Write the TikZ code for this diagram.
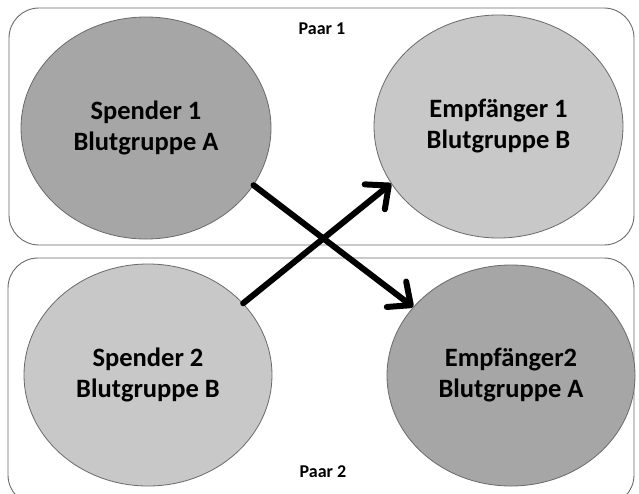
\documentclass[tikz,border=0pt]{standalone}
\usepackage{fontspec}
\setmainfont{Carlito}
\usetikzlibrary{shapes.geometric,arrows.meta}
\definecolor{darkfill}{HTML}{A6A6A6}
\definecolor{lightfill}{HTML}{C8C8C8}
\definecolor{edgegray}{HTML}{6A6A6A}
\tikzset{
  pairbox/.style={draw=edgegray, line width=0.9pt, rounded corners=30pt},
  person/.style={ellipse, draw=edgegray, line width=0.8pt, inner sep=0pt,
    align=center, font=\fontsize{26.5}{31}\selectfont\bfseries},
  pairlabel/.style={font=\fontsize{18}{21}\selectfont\bfseries, inner sep=0pt},
  swap/.style={line width=6pt, line cap=round,
    -{Straight Barb[length=18pt 0 0, width=32pt 0 0, line cap=round, line join=round]}}
}
\begin{document}
\begin{tikzpicture}[x=1pt, y=-1pt]
\useasboundingbox (0,0) rectangle (639,493);
\clip (0,0) rectangle (639,493);
\fill[white] (0,0) rectangle (639,493);
\draw[pairbox] (9,8) rectangle (634,245);
\draw[pairbox] (8,258) rectangle (634,505);
\node[pairlabel] (p1) at (322,29) {Paar 1};
\node[pairlabel] (p2) at (323,472) {Paar 2};
\node[person, fill=darkfill, minimum width=250pt, minimum height=222pt] (s1) at (146,128) {Spender 1\\Blutgruppe A};
\node[person, fill=lightfill, minimum width=249pt, minimum height=223pt] (e1) at (498.5,126.5) {Empfänger 1\\Blutgruppe B};
\node[person, fill=lightfill, minimum width=248pt, minimum height=222pt] (s2) at (148,375) {Spender 2\\Blutgruppe B};
\node[person, fill=darkfill, minimum width=248pt, minimum height=221pt] (e2) at (511,375.5) {Empfänger2\\Blutgruppe A};
\draw[swap] (s1.-28.7) -- (e2.145.9);
\draw[swap] (s2.37) -- (e1.208.3);
\end{tikzpicture}
\end{document}
